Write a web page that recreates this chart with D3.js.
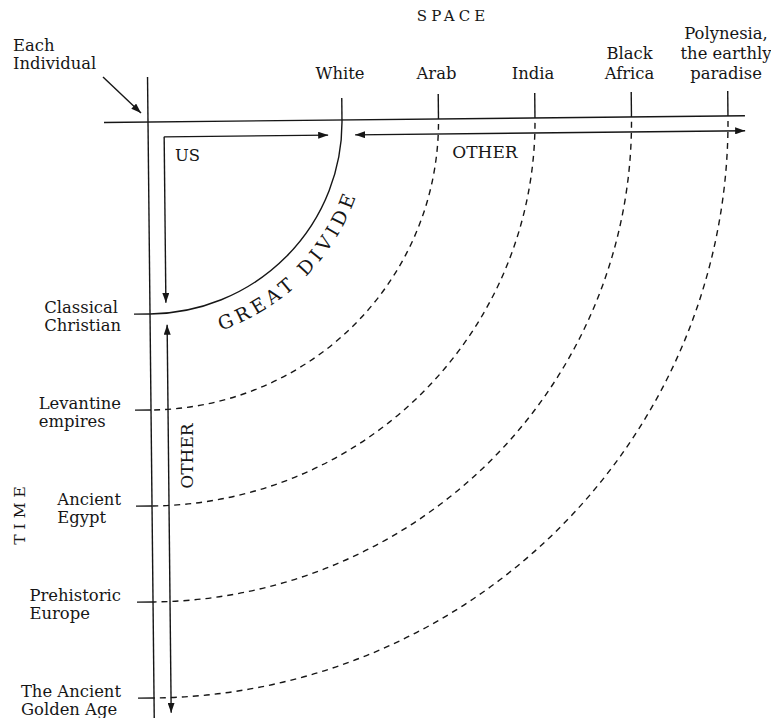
<!DOCTYPE html>
<html><head><meta charset="utf-8">
<script src="https://cdn.jsdelivr.net/npm/d3@7"></script>
<style>
body{margin:0;background:#fff}
svg{display:block}
text{font-family:"DejaVu Serif",serif;fill:#161616}
</style>
</head><body>
<svg id="c" width="771" height="718"></svg>
<script>
// ---- data ----
const spaceCategories = ["White", "Arab", "India", "Black Africa", "Polynesia"];
const spaceLabels = [["White"], ["Arab"], ["India"], ["Black", "Africa"], ["Polynesia,", "the earthly", "paradise"]];
const timeCategories = ["Classical Christian", "Levantine empires", "Ancient Egypt", "Prehistoric Europe", "The Ancient Golden Age"];
const timeLabels = [["Classical", "Christian"], ["Levantine", "empires"], ["Ancient", "Egypt"], ["Prehistoric", "Europe"], ["The Ancient", "Golden Age"]];
const axisTitles = ["SPACE", "TIME"];
const selfLabel = ["Each", "Individual"];
const usLabel = "US";
const otherLabel = "OTHER";
const divideLabel = "GREAT DIVIDE";

// ---- layout ----
const W = 771, H = 718, ox = 148, oy = 122;
const ink = "#161616";
const fs = 16.4;
const x = d3.scalePoint().domain(spaceCategories).range([194, 580]);
const y = d3.scalePoint().domain(timeCategories).range([192, 576]);

const svg = d3.select("#c");
svg.append("rect").attr("width", W).attr("height", H).attr("fill", "#fff");

const defs = svg.append("defs");
defs.append("marker").attr("id", "ah")
  .attr("markerUnits", "userSpaceOnUse")
  .attr("viewBox", "0 0 10 7").attr("refX", 10).attr("refY", 3.5)
  .attr("markerWidth", 10).attr("markerHeight", 7)
  .attr("orient", "auto-start-reverse")
  .append("path").attr("d", "M0,0 L10,3.5 L0,7 Z").attr("fill", ink);

const g = svg.append("g").attr("transform", `rotate(-0.6,${ox},${oy})`)
  .attr("stroke", ink).attr("fill", "none").attr("stroke-width", 1.4);

// axes
g.append("line").attr("x1", ox - 44).attr("y1", oy).attr("x2", ox + 597).attr("y2", oy);
g.append("line").attr("x1", ox).attr("y1", oy - 45).attr("x2", ox).attr("y2", H + 5);

// space ticks
g.selectAll(".st").data(spaceCategories).join("line")
  .attr("x1", d => ox + x(d)).attr("x2", d => ox + x(d))
  .attr("y1", oy).attr("y2", (d, i) => oy - (i === 0 ? 22 : 25));

// time ticks
g.selectAll(".tt").data(timeCategories).join("line")
  .attr("y1", d => oy + y(d)).attr("y2", d => oy + y(d))
  .attr("x1", ox).attr("x2", ox - 16);

// arcs
const pairs = spaceCategories.map((s, i) => ({ rx: x(s), ry: y(timeCategories[i]), i }));
g.selectAll(".arc").data(pairs).join("path")
  .attr("d", p => `M${ox + p.rx},${oy} A${p.rx},${p.ry} 0 0 1 ${ox},${oy + p.ry}`)
  .attr("stroke-dasharray", p => p.i === 0 ? null : "6,5")
  .attr("stroke-dashoffset", p => p.i === 0 ? null : 6);

// US arrows
g.append("path").attr("d", `M${ox + 16},${oy + 15} L${ox + 180},${oy + 15}`).attr("marker-end", "url(#ah)");
g.append("path").attr("d", `M${ox + 16},${oy + 15} L${ox + 16},${oy + 181}`).attr("marker-end", "url(#ah)");
// OTHER arrows
g.append("path").attr("d", `M${ox + 207},${oy + 15} L${ox + 597},${oy + 15}`)
  .attr("marker-start", "url(#ah)").attr("marker-end", "url(#ah)");
g.append("path").attr("d", `M${ox + 17},${oy + 203} L${ox + 17},${oy + 591}`)
  .attr("marker-start", "url(#ah)").attr("marker-end", "url(#ah)");

// Great divide text path
const R = 221;
defs.append("path").attr("id", "gd")
  .attr("d", `M${ox},${oy + R} A${R},${R} 0 0 0 ${ox + R},${oy}`);
const gt = svg.append("g").attr("transform", `rotate(-0.6,${ox},${oy})`);
gt.append("text").attr("font-size", 19)
  .append("textPath").attr("href", "#gd").attr("startOffset", 72)
  .attr("textLength", 196).attr("lengthAdjust", "spacing").text(divideLabel);

// ---- labels ----
// space labels
spaceLabels.forEach((lines, i) => {
  const t = svg.append("text").attr("font-size", fs).attr("text-anchor", "middle");
  const n = lines.length;
  lines.forEach((ln, j) => {
    t.append("tspan").attr("x", ox + x(spaceCategories[i]) - 2)
      .attr("y", 79 - (n - 1 - j) * 20).text(ln);
  });
});

// time labels (block left aligned, block right edge ~121)
timeLabels.forEach((lines, i) => {
  const yy = oy + y(timeCategories[i]);
  const t = svg.append("text").attr("font-size", fs);
  const spans = lines.map((ln, j) => t.append("tspan").attr("y", yy - 1 + j * 18).text(ln));
  const wmax = d3.max(spans, s => s.node().getComputedTextLength());
  spans.forEach(s => s.attr("x", 121 - wmax));
});

// Each individual
const ei = svg.append("text").attr("font-size", fs);
selfLabel.forEach((ln, j) => ei.append("tspan").attr("x", 13).attr("y", 51 + j * 18).text(ln));
svg.append("path").attr("d", "M103,77 L141,113").attr("stroke", ink).attr("stroke-width", 1.4)
  .attr("fill", "none").attr("marker-end", "url(#ah)");

// axis titles
svg.append("text").attr("x", 453).attr("y", 21).attr("text-anchor", "middle")
  .attr("font-size", 15).attr("letter-spacing", 4).text(axisTitles[0]);
svg.append("text").attr("transform", "translate(25,513) rotate(-90)").attr("text-anchor", "middle")
  .attr("font-size", 15.5).attr("letter-spacing", 5).text(axisTitles[1]);

// US / OTHER
svg.append("text").attr("x", 175).attr("y", 161).attr("font-size", fs).text(usLabel);
svg.append("text").attr("x", 485).attr("y", 158).attr("text-anchor", "middle").attr("font-size", 17).text(otherLabel);
svg.append("text").attr("transform", "translate(193,456) rotate(-90)").attr("text-anchor", "middle")
  .attr("font-size", 17).text(otherLabel);
</script>
</body></html>
